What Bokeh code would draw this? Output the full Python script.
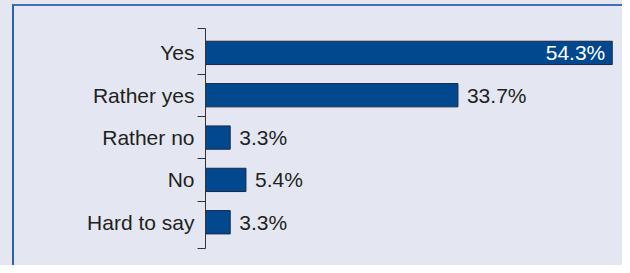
from bokeh.plotting import figure
from bokeh.models import Range1d, FixedTicker, LinearAxis, ColumnDataSource
from bokeh.core.properties import value
from bokeh.embed import file_html
from bokeh.resources import INLINE

categories = ["Yes", "Rather yes", "Rather no", "No", "Hard to say"]
values = [54.3, 33.7, 3.3, 5.4, 3.3]
labels = ["54.3%", "33.7%", "3.3%", "5.4%", "3.3%"]

BG = "#E4E7F2"
BAR = "#01488F"
TXT = "#231F20"
FONT = "Liberation Sans"

pos = list(range(len(categories)))
y_top, y_bot = -0.576, 4.62

p = figure(width=622, height=265, output_backend="svg", toolbar_location=None,
           x_range=Range1d(0, 55.0), y_range=Range1d(y_bot, y_top),
           min_border_left=205, min_border_right=5, min_border_top=28, min_border_bottom=17,
           x_axis_type=None, y_axis_type=None)
p.background_fill_color = BG
p.border_fill_color = None
p.outline_line_color = None
p.grid.visible = False

inside = [v > 50 for v in values]
src = ColumnDataSource(dict(y=pos, v=values, lab=labels))
p.hbar(y="y", right="v", left=0, height=0.55, source=src,
       fill_color=BAR, line_color="#1E2640", line_width=1)

out_src = ColumnDataSource(dict(y=[pos[i] for i in range(len(values)) if not inside[i]],
                                v=[values[i] for i in range(len(values)) if not inside[i]],
                                lab=[labels[i] for i in range(len(values)) if not inside[i]]))
in_src = ColumnDataSource(dict(y=[pos[i] for i in range(len(values)) if inside[i]],
                               v=[values[i] for i in range(len(values)) if inside[i]],
                               lab=[labels[i] for i in range(len(values)) if inside[i]]))
p.text(x="v", y="y", text="lab", source=out_src, x_offset=9, text_align="left",
       text_baseline="middle", text_font=value(FONT), text_font_size="21px", text_color=TXT)
p.text(x="v", y="y", text="lab", source=in_src, x_offset=-7, text_align="right",
       text_baseline="middle", text_font=value(FONT), text_font_size="21px", text_color="white")

bounds = [y_top] + [i + 0.5 for i in pos[:-1]] + [y_bot]
ax = LinearAxis(ticker=FixedTicker(ticks=pos, minor_ticks=bounds))
ax.major_label_overrides = {i: c for i, c in zip(pos, categories)}
ax.major_tick_line_color = None
ax.major_tick_out = 0
ax.major_tick_in = 0
ax.minor_tick_out = 8
ax.minor_tick_in = 0
ax.minor_tick_line_color = "#333333"
ax.axis_line_color = "#333333"
ax.major_label_standoff = 3
ax.major_label_text_font = FONT
ax.major_label_text_font_size = "21px"
ax.major_label_text_color = TXT
p.add_layout(ax, "left")

# panel background with its blue frame edges (left and top)
p.styles = {
    "background": ("linear-gradient(#2A62B0, #2A62B0) 12px 5px / 2px 100% no-repeat, "
                   "linear-gradient(#4270B8, #4270B8) 12px 4px / 100% 2px no-repeat, "
                   + BG),
}

open("out.html", "w").write(file_html(p, INLINE))
